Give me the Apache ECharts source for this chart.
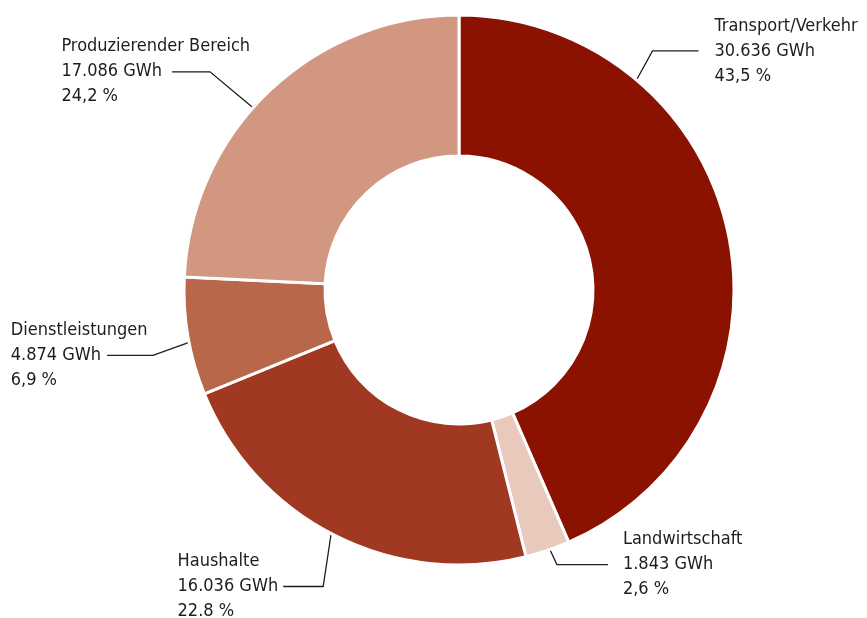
<!DOCTYPE html>
<html>
<head>
<meta charset="utf-8">
<script src="https://cdn.jsdelivr.net/npm/echarts@6/dist/echarts.min.js"></script>
<style>
  html, body { margin: 0; padding: 0; background: #fff; }
  #chart { width: 867px; height: 618px; }
</style>
</head>
<body>
<div id="chart"></div>
<script>
// data
const categories = ['Transport/Verkehr', 'Landwirtschaft', 'Haushalte', 'Dienstleistungen', 'Produzierender Bereich'];
const valuesGWh = [30636, 1843, 16036, 4874, 17086];
const percentLabels = ['43,5 %', '2,6 %', '22.8 %', '6,9 %', '24,2 %'];
const colors = ['#8b1100', '#e8c9bc', '#a13822', '#b9674b', '#d29780'];

// leader line layout: anchor angle (deg clockwise from top), elbow offset, horizontal run, gap to text
const anchorAngles = [40.2, 160.7, 207.7, 259, 311.5];
const elbowOffsets = [[16, -29], [7, 15], [-8, 53], [-36, 13], [-43, -36]];
const runLengths = [46, 51, -40, -46, -38];
const textGaps = [16, 15, 5, 6, 10];

const CX = 459, CY = 290, R_IN = 134, R_OUT = 275;
const FONT_SIZE = 18, LINE_H = 25, FONT = '"DejaVu Sans Condensed", "DejaVu Sans", sans-serif';

const fmt = v => String(v).replace(/\B(?=(\d{3})+(?!\d))/g, '.');

const measureCtx = document.createElement('canvas').getContext('2d');
measureCtx.font = FONT_SIZE + 'px ' + FONT;

const chart = echarts.init(document.getElementById('chart'));

chart.setOption({
  backgroundColor: '#fff',
  animation: false,
  series: [{
    type: 'pie',
    center: [CX, CY],
    radius: [R_IN, R_OUT],
    startAngle: 90,
    clockwise: true,
    itemStyle: { borderColor: '#fff', borderWidth: 3 },
    label: {
      show: true,
      position: 'outside',
      color: '#1d1d1b',
      fontFamily: FONT,
      fontSize: FONT_SIZE,
      lineHeight: LINE_H,
      align: 'left',
      width: 260,
      overflow: 'none',
      formatter: p => p.name + '\n' + fmt(p.value) + ' GWh\n' + percentLabels[p.dataIndex]
    },
    labelLine: {
      show: true,
      lineStyle: { color: '#1d1d1b', width: 1.3 }
    },
    labelLayout: params => {
      const i = params.dataIndex;
      const a = anchorAngles[i] * Math.PI / 180;
      const ax = CX + R_OUT * Math.sin(a);
      const ay = CY - R_OUT * Math.cos(a);
      const ex = ax + elbowOffsets[i][0];
      const ey = ay + elbowOffsets[i][1];
      const hx = ex + runLengths[i];
      let tx;
      if (runLengths[i] > 0) {
        tx = hx + textGaps[i];
      } else {
        const w = measureCtx.measureText(fmt(valuesGWh[i]) + ' GWh').width;
        tx = hx - textGaps[i] - w;
      }
      return {
        x: tx,
        y: ey,
        align: 'left',
        verticalAlign: 'middle',
        labelLinePoints: [[ax, ay], [ex, ey], [hx, ey]]
      };
    },
    data: categories.map((name, i) => ({
      name: name,
      value: valuesGWh[i],
      itemStyle: { color: colors[i] }
    }))
  }]
});
</script>
</body>
</html>
